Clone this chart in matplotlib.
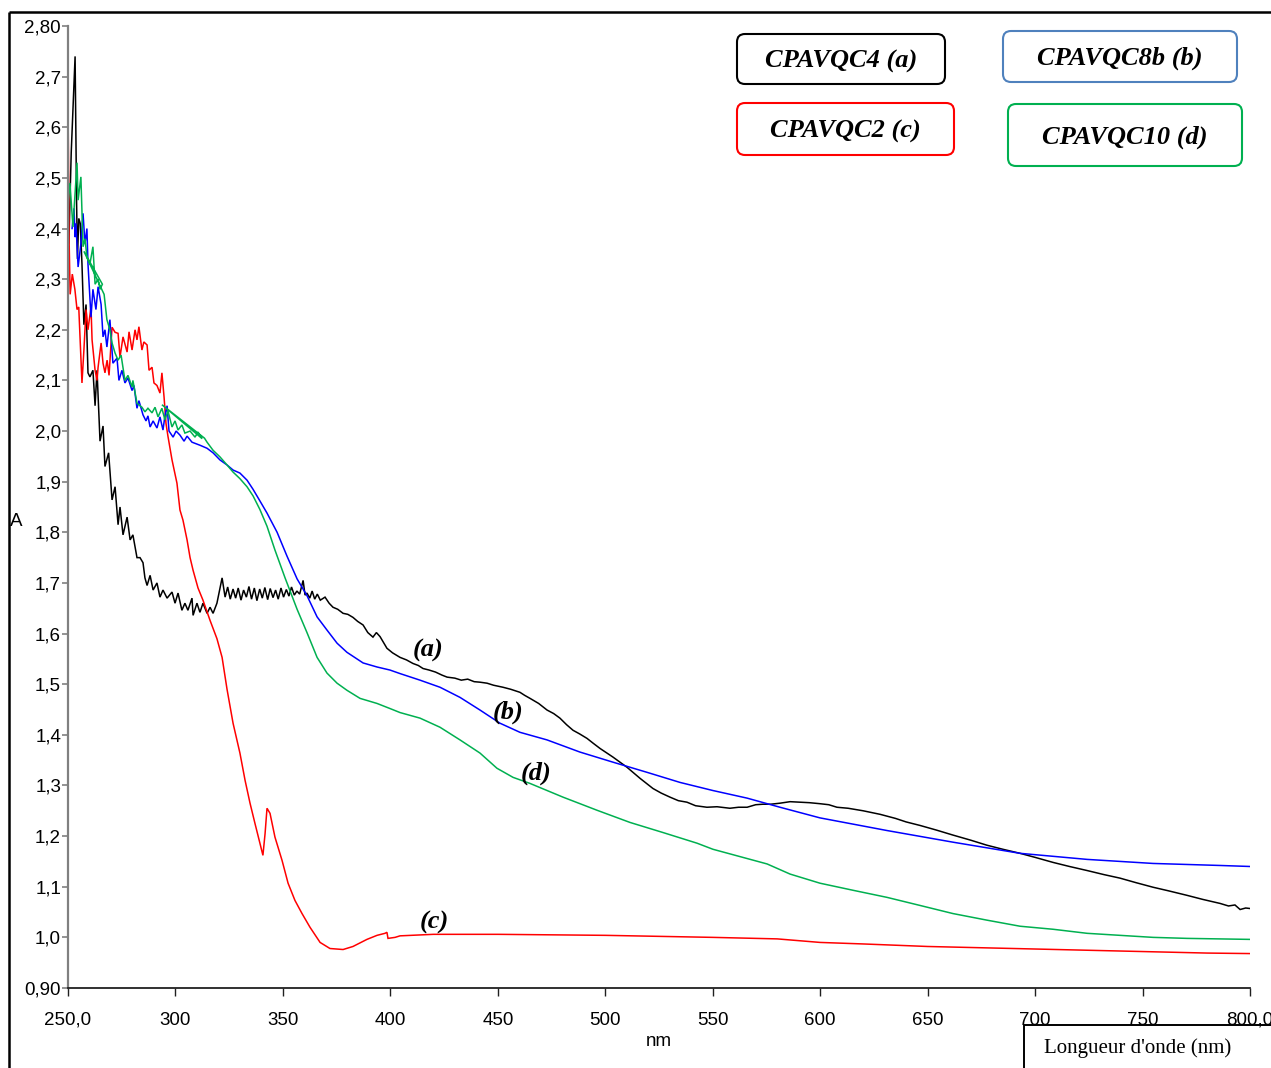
import matplotlib

matplotlib.use("Agg")
import matplotlib.pyplot as plt
from matplotlib.patches import FancyBboxPatch, Rectangle
from matplotlib.ticker import FixedLocator, FuncFormatter

# UV-visible absorption spectra, (wavelength nm, absorbance)
spec_a = [
    (250.0, 2.46), (250.4, 2.37), (251.5, 2.55), (253.3, 2.74), (254.0, 2.45), (254.4, 2.34),
    (255.0, 2.42), (255.7, 2.41), (256.5, 2.33), (257.4, 2.21), (258.4, 2.25), (259.3, 2.115),
    (260.2, 2.107), (261.6, 2.12), (262.6, 2.05), (263.5, 2.12), (264.9, 1.98), (266.3, 2.01),
    (267.2, 1.93), (268.9, 1.957), (270.5, 1.864), (271.9, 1.89), (273.3, 1.815), (274.2, 1.85),
    (275.6, 1.795), (277.5, 1.83), (278.9, 1.785), (280.2, 1.795), (282.1, 1.75), (283.5, 1.75),
    (284.9, 1.74), (285.8, 1.71), (286.8, 1.695), (288.2, 1.715), (289.6, 1.686), (291.4, 1.70),
    (292.8, 1.672), (294.2, 1.686), (296.1, 1.67), (298.4, 1.682), (299.8, 1.66), (301.2, 1.68),
    (303.0, 1.646), (304.4, 1.66), (305.8, 1.646), (307.7, 1.67), (308.2, 1.636), (310.0, 1.66),
    (311.4, 1.642), (312.8, 1.66), (314.7, 1.64), (316.1, 1.652), (317.5, 1.64), (319.3, 1.66),
    (321.7, 1.71), (323.1, 1.672), (324.3, 1.692), (325.5, 1.668), (326.8, 1.688), (328.0, 1.670),
    (329.2, 1.690), (330.5, 1.666), (331.7, 1.686), (333.0, 1.672), (334.2, 1.693), (335.4, 1.668),
    (336.7, 1.690), (337.9, 1.665), (339.2, 1.688), (340.4, 1.670), (341.6, 1.691), (342.9, 1.667),
    (344.1, 1.689), (345.4, 1.671), (346.6, 1.686), (347.8, 1.668), (349.1, 1.690), (350.3, 1.672),
    (351.6, 1.687), (352.8, 1.674), (354.0, 1.692), (355.3, 1.676), (356.5, 1.684), (357.8, 1.678),
    (359.4, 1.705), (360.3, 1.676), (361.2, 1.680), (362.5, 1.670), (363.6, 1.684), (364.8, 1.668),
    (366.0, 1.678), (367.4, 1.666), (369.6, 1.672), (371.5, 1.660), (373.3, 1.652), (375.5, 1.648),
    (378.0, 1.640), (380.2, 1.638), (382.6, 1.632), (384.8, 1.624), (387.3, 1.617), (389.5, 1.602),
    (391.9, 1.593), (393.5, 1.602), (395.2, 1.594), (398.4, 1.571), (401.0, 1.562), (404.5, 1.553),
    (407.5, 1.548), (410.5, 1.541), (413.0, 1.537), (415.2, 1.531), (418.0, 1.528), (421.0, 1.524),
    (424.0, 1.518), (426.4, 1.514), (430.0, 1.512), (433.0, 1.508), (436.0, 1.510), (439.0, 1.505),
    (441.7, 1.504), (445.0, 1.502), (448.0, 1.498), (452.4, 1.494), (456.0, 1.490), (460.3, 1.484),
    (462.5, 1.478), (465.0, 1.472), (469.0, 1.462), (472.9, 1.449), (476.0, 1.442), (478.9, 1.433),
    (482.0, 1.420), (485.0, 1.409), (488.0, 1.402), (491.5, 1.393), (494.5, 1.383), (497.6, 1.373),
    (503.6, 1.356), (510.1, 1.336), (516.2, 1.314), (522.2, 1.294), (526.0, 1.285), (530.1, 1.277),
    (534.0, 1.270), (538.0, 1.267), (542.0, 1.260), (547.3, 1.257), (552.0, 1.258), (558.0, 1.255),
    (562.0, 1.257), (566.0, 1.257), (570.0, 1.262), (573.4, 1.263), (577.0, 1.263), (581.3, 1.265),
    (586.0, 1.268), (590.6, 1.267), (595.0, 1.266), (599.9, 1.264), (604.0, 1.262), (607.8, 1.257),
    (613.0, 1.255), (620.0, 1.250), (627.9, 1.243), (635.0, 1.235), (640.0, 1.228), (646.5, 1.221),
    (654.0, 1.212), (661.8, 1.202), (670.0, 1.192), (677.6, 1.182), (685.0, 1.174), (693.0, 1.166),
    (700.0, 1.158), (708.4, 1.148), (716.0, 1.140), (724.2, 1.132), (732.0, 1.124), (739.5, 1.117),
    (747.0, 1.108), (754.9, 1.099), (762.0, 1.092), (770.7, 1.083), (778.0, 1.075), (786.1, 1.067),
    (790.0, 1.062), (793.0, 1.064), (795.4, 1.055), (798.0, 1.058), (800.0, 1.057),
]

spec_b = [
    (251.9, 2.40), (252.8, 2.44), (253.3, 2.383), (253.7, 2.41), (254.7, 2.324), (256.0, 2.37),
    (257.0, 2.43), (257.9, 2.37), (258.8, 2.40), (259.3, 2.33), (260.7, 2.225), (261.6, 2.28),
    (263.0, 2.24), (264.0, 2.285), (265.4, 2.25), (266.3, 2.186), (267.2, 2.20), (268.1, 2.166),
    (269.5, 2.22), (270.9, 2.134), (272.8, 2.144), (273.7, 2.10), (275.1, 2.12), (276.5, 2.095),
    (277.9, 2.105), (279.8, 2.08), (280.7, 2.09), (282.1, 2.045), (283.0, 2.06), (284.9, 2.032),
    (286.3, 2.02), (287.2, 2.03), (288.2, 2.008), (289.6, 2.02), (291.4, 2.006), (292.8, 2.028),
    (294.2, 2.002), (295.1, 2.03), (296.1, 2.05), (297.0, 2.00), (298.9, 1.988), (300.3, 2.0),
    (302.1, 1.992), (304.0, 1.98), (305.4, 1.99), (307.7, 1.978), (311.4, 1.972), (314.7, 1.966),
    (317.5, 1.957), (320.7, 1.943), (324.0, 1.933), (326.8, 1.923), (330.0, 1.917), (333.3, 1.903),
    (336.1, 1.885), (339.3, 1.862), (342.6, 1.838), (347.3, 1.80), (351.9, 1.753), (356.6, 1.708),
    (361.2, 1.675), (365.9, 1.633), (370.5, 1.607), (375.2, 1.581), (379.8, 1.563), (387.3, 1.542),
    (393.8, 1.534), (399.8, 1.528), (404.5, 1.521), (413.8, 1.508), (423.1, 1.494), (432.4, 1.474),
    (441.7, 1.449), (451.0, 1.423), (460.3, 1.405), (472.9, 1.39), (488.2, 1.366), (503.6, 1.346),
    (519.4, 1.326), (534.8, 1.306), (550.1, 1.29), (566.0, 1.275), (581.3, 1.257), (599.9, 1.236),
    (631.1, 1.211), (661.8, 1.188), (693.0, 1.166), (724.2, 1.154), (754.9, 1.146), (786.1, 1.142),
    (800.0, 1.14),
]

spec_c = [
    (250.0, 2.65), (250.5, 2.38), (251.0, 2.27), (252.0, 2.31), (253.2, 2.28), (254.2, 2.24),
    (255.0, 2.245), (256.5, 2.095), (257.4, 2.16), (258.4, 2.24), (259.3, 2.20), (260.7, 2.245),
    (261.2, 2.18), (262.6, 2.12), (263.5, 2.10), (264.0, 2.126), (265.4, 2.174), (266.3, 2.134),
    (267.2, 2.115), (268.2, 2.14), (269.1, 2.11), (270.5, 2.205), (271.9, 2.195), (273.3, 2.193),
    (274.2, 2.146), (275.6, 2.186), (277.5, 2.156), (278.4, 2.196), (279.8, 2.16), (281.2, 2.20),
    (282.1, 2.18), (283.0, 2.206), (284.4, 2.16), (285.3, 2.176), (286.8, 2.17), (287.7, 2.12),
    (289.1, 2.126), (290.0, 2.095), (291.4, 2.09), (292.8, 2.075), (293.7, 2.115), (294.7, 2.067),
    (295.6, 2.015), (296.5, 1.99), (298.4, 1.943), (300.7, 1.897), (302.1, 1.844), (303.5, 1.824),
    (305.4, 1.785), (306.8, 1.75), (308.2, 1.725), (310.5, 1.69), (312.8, 1.666), (316.1, 1.626),
    (319.3, 1.59), (321.7, 1.553), (324.0, 1.49), (326.8, 1.423), (330.0, 1.364), (332.4, 1.31),
    (334.7, 1.265), (337.0, 1.225), (339.3, 1.186), (340.7, 1.162), (341.7, 1.205), (342.6, 1.255),
    (344.0, 1.245), (346.3, 1.198), (349.6, 1.152), (352.4, 1.107), (355.6, 1.073), (358.9, 1.047),
    (362.6, 1.02), (367.3, 0.99), (371.9, 0.978), (378.0, 0.976), (382.6, 0.982), (389.1, 0.996),
    (393.8, 1.004), (397.5, 1.008), (398.4, 1.01), (398.9, 0.998), (402.2, 1.0), (404.5, 1.003),
    (420.0, 1.006), (450.0, 1.006), (500.0, 1.004), (550.0, 1.0), (580.0, 0.997), (600.0, 0.99),
    (620.0, 0.987), (650.0, 0.982), (680.0, 0.979), (700.0, 0.977), (720.0, 0.975), (750.0, 0.972),
    (780.0, 0.969), (800.0, 0.968),
]

# scan of (d) doubles back twice below 315 nm
spec_d = [
    (250.0, 2.57), (250.1, 2.456), (250.9, 2.49), (252.3, 2.403), (253.3, 2.47), (254.2, 2.53),
    (254.7, 2.456), (256.0, 2.502), (257.0, 2.364), (257.9, 2.38), (258.8, 2.344), (260.2, 2.33),
    (261.6, 2.364), (262.6, 2.29), (264.0, 2.30), (264.9, 2.28), (266.0, 2.29), (257.4, 2.355),
    (266.8, 2.27), (268.1, 2.22), (269.5, 2.20), (270.5, 2.174), (271.9, 2.154), (273.3, 2.14),
    (274.7, 2.15), (276.5, 2.10), (277.9, 2.11), (279.8, 2.087), (280.2, 2.10), (282.1, 2.055),
    (283.5, 2.05), (284.4, 2.047), (285.8, 2.038), (287.2, 2.045), (289.1, 2.036), (290.5, 2.047),
    (291.9, 2.028), (293.7, 2.045), (295.1, 2.022), (296.5, 2.04), (298.4, 2.008), (299.8, 2.02),
    (301.2, 2.002), (303.0, 2.012), (304.4, 1.996), (306.8, 2.0), (309.1, 1.988), (310.5, 1.998),
    (312.4, 1.985), (293.7, 2.052), (313.5, 1.986), (314.7, 1.978), (317.5, 1.962), (320.7, 1.949),
    (324.0, 1.933), (326.8, 1.919), (330.0, 1.906), (333.3, 1.89), (336.1, 1.872), (339.3, 1.845),
    (342.6, 1.812), (346.3, 1.765), (351.0, 1.71), (356.6, 1.648), (361.2, 1.602), (365.9, 1.553),
    (370.5, 1.522), (375.2, 1.502), (379.8, 1.488), (385.9, 1.472), (393.8, 1.462), (399.8, 1.452),
    (404.5, 1.444), (413.8, 1.433), (423.1, 1.415), (432.4, 1.39), (441.7, 1.364), (449.6, 1.334),
    (457.1, 1.316), (465.0, 1.304), (480.3, 1.277), (496.2, 1.251), (511.5, 1.227), (526.9, 1.207),
    (542.7, 1.186), (550.1, 1.174), (575.3, 1.145), (586.0, 1.125), (599.9, 1.107), (615.3, 1.093),
    (631.1, 1.079), (646.5, 1.063), (661.8, 1.047), (677.6, 1.034), (693.0, 1.022), (708.4, 1.016),
    (724.2, 1.008), (739.5, 1.004), (754.9, 1.0), (770.7, 0.998), (800.0, 0.996),
]

curve_colors = {"a": "#000000", "b": "#0000ff", "c": "#ff0000", "d": "#00b050"}
curve_labels = {"a": (417.5, 1.567), "b": (454.7, 1.445), "c": (420.3, 1.03), "d": (467.8, 1.324)}
legend_names = {"a": "CPAVQC4 (a)", "b": "CPAVQC8b (b)", "c": "CPAVQC2 (c)", "d": "CPAVQC10 (d)"}
legend_edges = {"a": "#000000", "b": "#4f81bd", "c": "#ff0000", "d": "#00b050"}

x_ticks = [250, 300, 350, 400, 450, 500, 550, 600, 650, 700, 750, 800]
y_ticks = [round(0.9 + 0.1 * i, 1) for i in range(20)]

W, H = 1271, 1068
SANS = "Liberation Sans"
SERIF = "Liberation Serif"


def fmt_x(v, _pos):
    if v in (250, 800):
        return f"{v:.1f}".replace(".", ",")
    return f"{v:.0f}"


def fmt_y(v, _pos):
    if round(v, 2) in (2.8, 0.9):
        return f"{v:.2f}".replace(".", ",")
    return f"{v:.1f}".replace(".", ",")


fig = plt.figure(figsize=(W / 100, H / 100), dpi=100)
ax = fig.add_axes([68 / W, 1 - 988 / H, 1182 / W, 962 / H])

for key, spec in (("a", spec_a), ("c", spec_c), ("b", spec_b), ("d", spec_d)):
    xs = [p[0] for p in spec]
    ys = [p[1] for p in spec]
    ax.plot(xs, ys, color=curve_colors[key], lw=1.1, solid_joinstyle="miter")

for key, (lx, ly) in curve_labels.items():
    ax.text(lx, ly, f"({key})", ha="center", va="center", fontsize=19,
            family=SERIF, weight="bold", style="italic")

ax.set_xlim(250, 800)
ax.set_ylim(0.9, 2.8)
ax.xaxis.set_major_locator(FixedLocator(x_ticks))
ax.yaxis.set_major_locator(FixedLocator(y_ticks))
ax.xaxis.set_major_formatter(FuncFormatter(fmt_x))
ax.yaxis.set_major_formatter(FuncFormatter(fmt_y))
for side in ("top", "right"):
    ax.spines[side].set_visible(False)
ax.spines["left"].set_color("#808080")
ax.spines["left"].set_linewidth(1.6)
ax.spines["bottom"].set_color("#202020")
ax.spines["bottom"].set_linewidth(1.3)
ax.tick_params(axis="y", length=4, width=1.2, color="#808080", pad=1, labelsize=13.5)
ax.tick_params(axis="x", length=6, width=1.0, color="#202020", pad=11, labelsize=13.5)
for lab in ax.get_xticklabels() + ax.get_yticklabels():
    lab.set_family(SANS)

# page furniture drawn in pixel coordinates
over = fig.add_axes([0, 0, 1, 1], zorder=5)
over.set_xlim(0, W)
over.set_ylim(H, 0)
over.axis("off")
over.patch.set_alpha(0)
over.plot([9, W], [12, 12], color="black", lw=1.8, solid_capstyle="butt")
over.plot([9, 9], [12, H], color="black", lw=1.8, solid_capstyle="butt")
over.text(16, 521, "A", ha="center", va="center", fontsize=13.5, family=SANS)
over.text(659, 1041, "nm", ha="center", va="center", fontsize=13.5, family=SANS)
over.add_patch(Rectangle((1024, 1025), 400, 200, fill=False, lw=1.4, edgecolor="black"))
over.text(1044, 1048, "Longueur d'onde (nm)", ha="left", va="center", fontsize=15, family=SERIF)

legend_boxes = {
    "a": (737, 34, 208, 50),
    "b": (1003, 31, 234, 51),
    "c": (737, 103, 217, 52),
    "d": (1008, 104, 234, 62),
}
for key, (bx, by, bw, bh) in legend_boxes.items():
    over.add_patch(FancyBboxPatch((bx, by), bw, bh, boxstyle="round,pad=0,rounding_size=8",
                                  fill=False, lw=1.5, edgecolor=legend_edges[key]))
    over.text(bx + bw / 2, by + bh / 2 + 2, legend_names[key], ha="center", va="center",
              fontsize=19, family=SERIF, weight="bold", style="italic")

fig.savefig("out.png", dpi=100)
